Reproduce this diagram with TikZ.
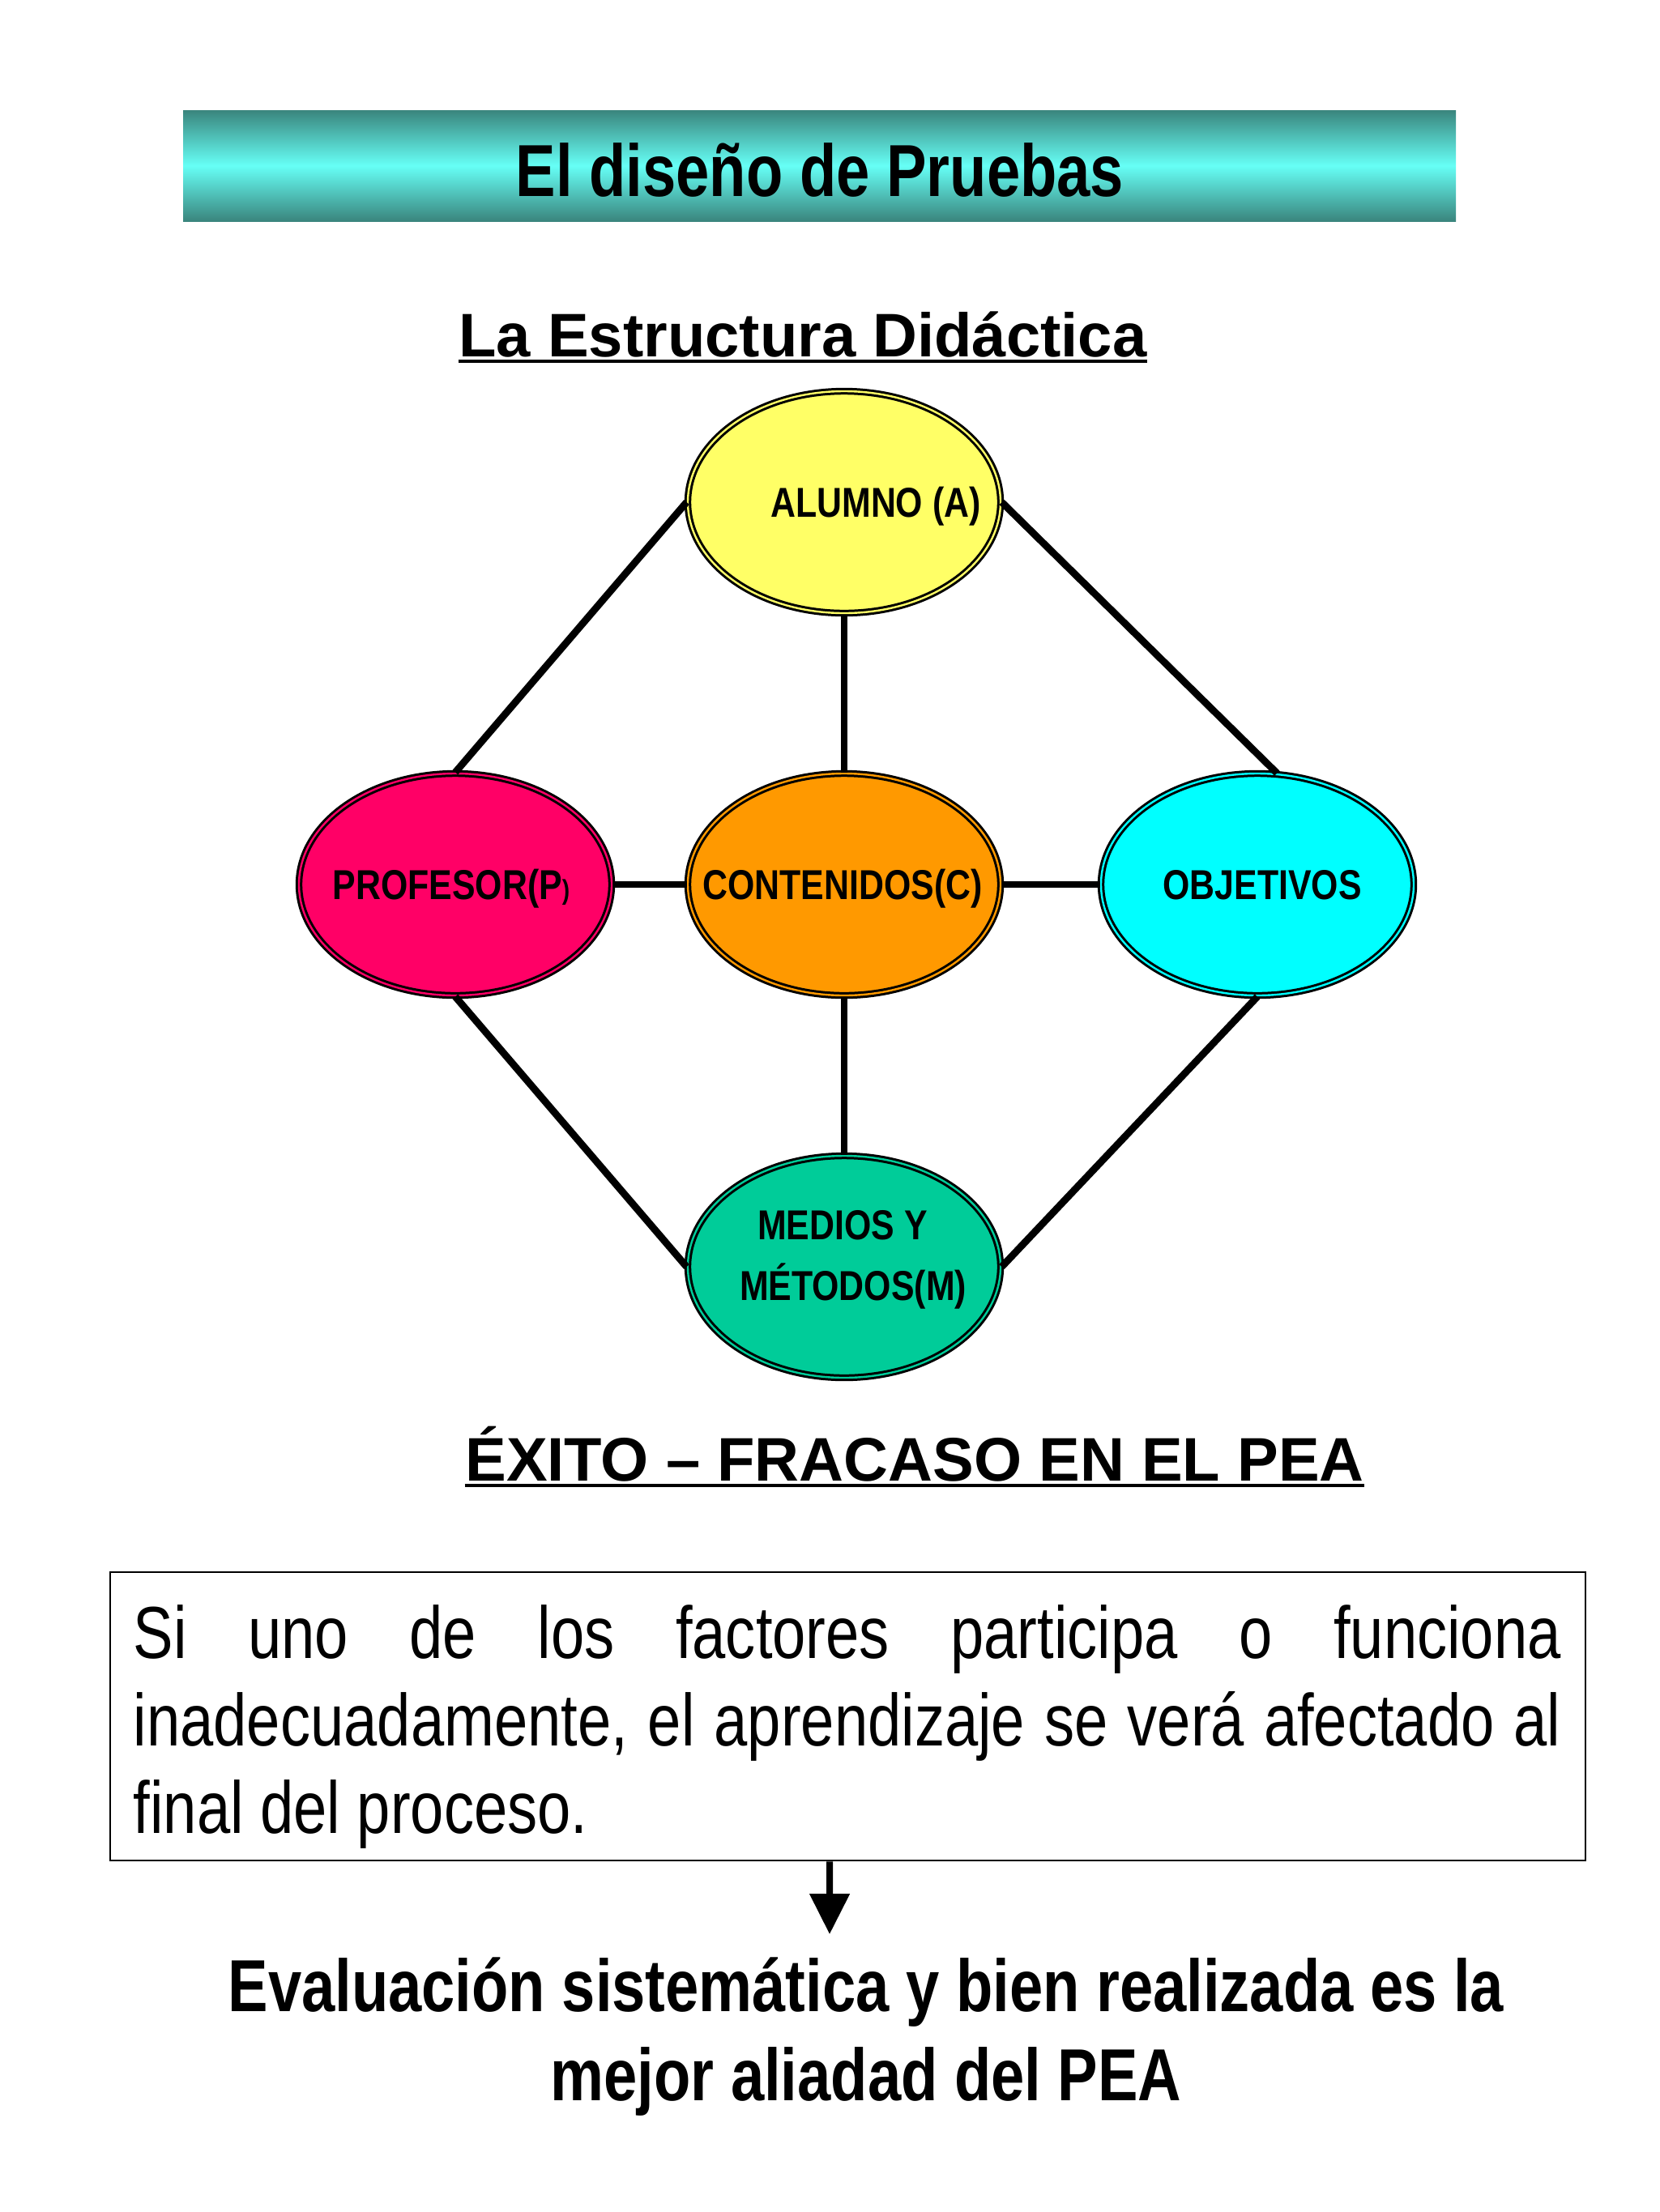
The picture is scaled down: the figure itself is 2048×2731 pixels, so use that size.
\documentclass[tikz,border=0pt]{standalone}
\usepackage{fontspec}
\setmainfont{Liberation Sans}
\newfontfamily\condfont[FakeStretch=0.815]{Liberation Sans}
\newfontfamily\ovalfont[FakeStretch=0.83]{Liberation Sans}
\usetikzlibrary{shapes.geometric,arrows.meta}

\definecolor{Ctealdark}{HTML}{3A857D}
\definecolor{Ctealglow}{HTML}{66FFF6}
\definecolor{Calumno}{HTML}{FFFF66}
\definecolor{Cprofesor}{HTML}{FF0066}
\definecolor{Ccontenido}{HTML}{FF9900}
\definecolor{Cobjetivo}{HTML}{00FFFF}
\definecolor{Cmedios}{HTML}{00CC99}

\tikzset{
	oval/.style={ellipse,draw=black,fill=#1,double=#1,line width=0.75pt,
		double distance=0.6pt,minimum width=96.5pt,minimum height=68.5pt,inner sep=0pt},
	ovaltext/.style={anchor=base,inner sep=0pt,
		font=\ovalfont\bfseries\fontsize{12.9}{18.75}\selectfont},
	link/.style={line width=2.2pt,black},
	heading/.style={anchor=base,inner sep=0pt,font=\bfseries\fontsize{19}{23}\selectfont},
}

\begin{document}
\begin{tikzpicture}[x=0.25pt,y=-0.25pt]
		\useasboundingbox (0,0) rectangle (2048,2731);
		\fill[white] (0,0) rectangle (2048,2731);
		% title bar
		\shade[top color=Ctealdark,bottom color=Ctealdark,middle color=Ctealglow]
		(226,136) rectangle (1797,273);
		\node[anchor=base,inner sep=0pt,font=\condfont\bfseries\fontsize{22.75}{27}\selectfont]
		(title) at (1012,242) {El diseño de Pruebas};
		\node[heading] (estructura) at (991,440) {La Estructura Didáctica};
		\draw[line width=1pt] ([yshift=-1.4pt]estructura.base west) -- ([yshift=-1.4pt]estructura.base east);

		% the five factors
		\node[oval=Calumno] (alumno) at (1042,620) {};
		\node[oval=Cprofesor] (profesor) at (562,1092) {};
		\node[oval=Ccontenido] (contenido) at (1042,1092) {};
		\node[oval=Cobjetivo] (objetivos) at (1552,1092) {};
		\node[oval=Cmedios] (medios) at (1042,1564) {};

		\draw[link] (alumno.west) -- (profesor.north);
		\draw[link] (alumno.east) -- (objetivos.80);
		\draw[link] (alumno.south) -- (contenido.north);
		\draw[link] (profesor.east) -- (contenido.west);
		\draw[link] (contenido.east) -- (objetivos.west);
		\draw[link] (profesor.south) -- (medios.west);
		\draw[link] (contenido.south) -- (medios.north);
		\draw[link] (objetivos.south) -- (medios.east);

		\node[ovaltext] (alumnoTxt) at (1081,638) {ALUMNO (A)};
		\node[ovaltext] (profesorTxt) at (557,1110) {PROFESOR(P{\fontsize{8.5}{9}\selectfont)}};
		\node[ovaltext] (contenidoTxt) at (1040,1110) {CONTENIDOS(C)};
		\node[ovaltext] (objetivosTxt) at (1558,1110) {OBJETIVOS};
		\node[ovaltext] (mediosTxt) at (1040,1530) {MEDIOS Y};
		\node[ovaltext] (metodosTxt) at (1053,1605) {MÉTODOS(M)};

		\node[heading] (exito) at (1129,1828) {ÉXITO -- FRACASO EN EL PEA};
		\draw[line width=1pt] ([yshift=-1.6pt]exito.base west) -- ([yshift=-1.6pt]exito.base east);

		% statement and conclusion
		\node[draw,line width=0.7pt,minimum width=455.25pt,minimum height=89pt,inner sep=0pt]
		(factbox) at (1046.5,2119) {};
		\node[anchor=base west,inner sep=0pt,font=\condfont\fontsize{22.75}{27}\selectfont]
		(factTxt) at (164,2047) {\parbox[t]{440.5pt}{%
				\makebox[440.5pt][s]{Si uno de los factores participa o funciona}\\
				\makebox[440.5pt][s]{inadecuadamente, el aprendizaje se verá afectado al}\\
				final del proceso.}};
		\coordinate (arrtip) at (1024,2388);
		\draw[line width=2pt,-{Triangle[length=12.5pt,width=12pt]}]
		([xshift=-5.6pt]factbox.south) -- (arrtip);
		\node[anchor=base,inner sep=0pt,font=\condfont\bfseries\fontsize{22.75}{27.5}\selectfont]
		(verdict) at (1069,2483) {\parbox[t]{480pt}{\centering
				Evaluación sistemática y bien realizada es la\\
				mejor aliadad del PEA}};
	\end{tikzpicture}
\end{document}
